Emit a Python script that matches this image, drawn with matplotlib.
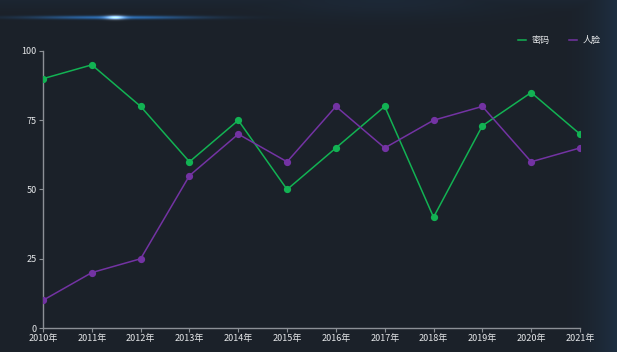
import matplotlib
matplotlib.use('Agg')
import matplotlib.pyplot as plt
import numpy as np

plt.rcParams['font.family'] = ['Noto Sans CJK SC', 'DejaVu Sans']

years = ['2010年', '2011年', '2012年', '2013年', '2014年', '2015年',
         '2016年', '2017年', '2018年', '2019年', '2020年', '2021年']
password = [90, 95, 80, 60, 75, 50, 65, 80, 40, 73, 85, 70]
face = [10, 20, 25, 55, 70, 60, 80, 65, 75, 80, 60, 65]
y_ticks = [0, 25, 50, 75, 100]

BG = '#1b2129'
GREEN = '#12b253'
PURPLE = '#7333a3'
AXIS = '#8c9096'
TEXT = '#e6e8ea'

W, H = 617, 352
fig = plt.figure(figsize=(W / 100, H / 100), dpi=100, facecolor=BG)

# background: dark with bluish edges + glow streak top-left
bg = fig.add_axes([0, 0, 1, 1])
xx, yy = np.meshgrid(np.linspace(0, 1, W), np.linspace(0, 1, H))
base = np.array([0x1b, 0x21, 0x29]) / 255
edge = np.array([0x1f, 0x33, 0x4a]) / 255
t = np.clip((xx - 0.90) / 0.10, 0, 1) ** 2 * 0.75
t = np.maximum(t, np.clip((0.04 - yy) / 0.04, 0, 1) * 0.25)
t = np.maximum(t, np.exp(-((xx - 0.62) / 0.22) ** 2 - (yy / 0.05) ** 2) * 0.4)
img = base + (edge - base) * t[..., None]
# glow
gx, gy = 115 / W, 17 / H
streak = np.exp(-((xx - gx) / 0.13) ** 2 - ((yy - gy) / 0.005) ** 2)
core = np.exp(-((xx - gx) / 0.015) ** 2 - ((yy - gy) / 0.006) ** 2)
blue = np.array([0.12, 0.5, 0.9])
img = img + blue * streak[..., None] * 0.6 + core[..., None] * 0.6
img = np.clip(img, 0, 1)
bg.imshow(img, extent=[0, 1, 0, 1], aspect='auto', origin='upper')
bg.axis('off')

ax = fig.add_axes([43 / W, 24 / H, (580 - 43) / W, (328 - 51) / H])
ax.patch.set_alpha(0)
x = np.arange(len(years))
ax.plot(x, password, color=GREEN, lw=1.1, marker='o', ms=4.2, label='密码', zorder=3)
ax.plot(x, face, color=PURPLE, lw=1.1, marker='o', ms=4.2, label='人脸', zorder=3)

ax.set_xlim(0, len(years) - 1)
ax.set_ylim(0, 100)
ax.set_xticks(x)
ax.set_xticklabels(years)
ax.set_yticks(y_ticks)
for s in ['top', 'right']:
    ax.spines[s].set_visible(False)
for s in ['left', 'bottom']:
    ax.spines[s].set_color(AXIS)
    ax.spines[s].set_linewidth(1.0)
ax.tick_params(colors=AXIS, labelcolor=TEXT, labelsize=6.5, length=3, width=0.8, pad=1.5)

leg = ax.legend(loc='upper right', bbox_to_anchor=(1.054, 1.085), ncol=2, frameon=False,
                fontsize=6.5, handlelength=0.9, handletextpad=0.6, columnspacing=2.2,
                labelcolor=TEXT)
for h in leg.legend_handles:
    h.set_marker('')

fig.savefig('out.png', dpi=100, facecolor=BG)
